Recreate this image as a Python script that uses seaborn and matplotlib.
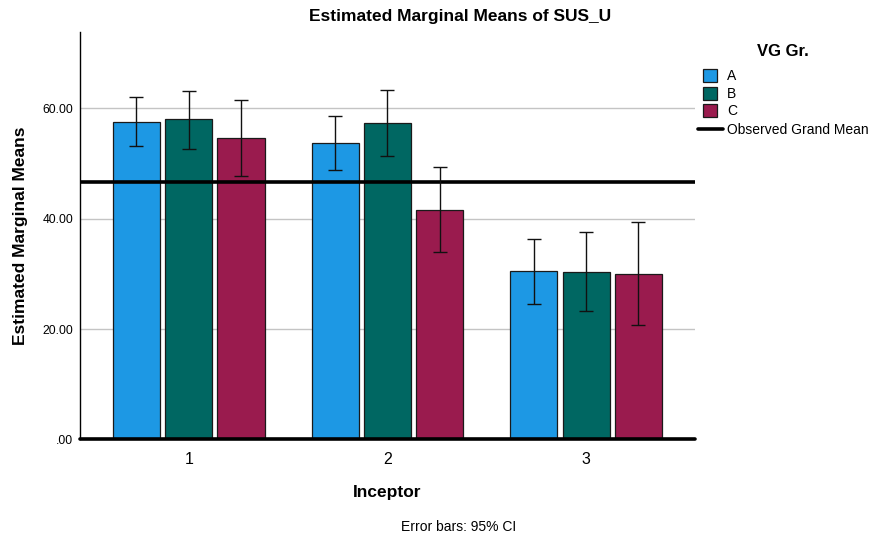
import numpy as np
import pandas as pd
import matplotlib
matplotlib.use("Agg")
import matplotlib.pyplot as plt
import seaborn as sns
from matplotlib.patches import Rectangle
from matplotlib.lines import Line2D

# Estimated marginal means of SUS_U by Inceptor level and VG group
inceptor = ["1", "2", "3"]
groups = ["A", "B", "C"]
mean_a = [57.6, 53.8, 30.5]
mean_b = [58.0, 57.3, 30.4]
mean_c = [54.6, 41.6, 30.0]
low_a = [53.2, 48.9, 24.6]
low_b = [52.7, 51.4, 23.3]
low_c = [47.7, 33.9, 20.7]
high_a = [62.0, 58.7, 36.4]
high_b = [63.2, 63.3, 37.5]
high_c = [61.5, 49.4, 39.4]
grand_mean = 46.7
y_ticks = [0, 20, 40, 60]
y_tick_labels = [".00", "20.00", "40.00", "60.00"]
colors = ["#1D98E4", "#006762", "#9A1B4E"]

means = [mean_a, mean_b, mean_c]
lows = [low_a, low_b, low_c]
highs = [high_a, high_b, high_c]

rows = []
for g, m, lo, hi in zip(groups, means, lows, highs):
    for lvl, v, l, h in zip(inceptor, m, lo, hi):
        rows.append({"Inceptor": lvl, "VG": g, "Mean": v, "Low": l, "High": h})
df = pd.DataFrame(rows)

sns.set_style("white")
plt.rcParams["font.family"] = ["Liberation Sans", "DejaVu Sans"]
plt.rcParams["text.color"] = "black"
plt.rcParams["axes.labelcolor"] = "black"

W, H = 870, 536
fig = plt.figure(figsize=(W / 100, H / 100), dpi=100)
ax = fig.add_axes([80 / W, 1 - 439.3 / H, 615 / W, 407 / H])

sns.barplot(data=df, x="Inceptor", y="Mean", hue="VG", order=inceptor,
            hue_order=groups, palette=colors, saturation=1, width=0.79,
            gap=0.1, edgecolor="#1a1a1a", linewidth=0.9, errorbar=None,
            legend=False, ax=ax, zorder=2)

# 95% CI error bars placed at the drawn bar centres
for cont, g in zip(ax.containers, groups):
    sub = df[df["VG"] == g].set_index("Inceptor").loc[inceptor]
    xs = [p.get_x() + p.get_width() / 2 for p in cont.patches]
    ys = sub["Mean"].to_numpy()
    err = np.vstack([ys - sub["Low"].to_numpy(), sub["High"].to_numpy() - ys])
    ax.errorbar(xs, ys, yerr=err, fmt="none", ecolor="#111111",
                elinewidth=1.0, capsize=4.8, capthick=1.0, zorder=4)

ax.axhline(grand_mean, color="black", lw=2.6, zorder=3)
ax.axhline(0, color="black", lw=2.6, zorder=3, clip_on=False)

ax.set_xlim(-0.547, 2.548)
ax.set_ylim(0, 73.8)
ax.set_yticks(y_ticks)
ax.set_yticklabels(y_tick_labels)
ax.yaxis.grid(True, color="#C4C4C4", lw=1.0)
ax.set_axisbelow(True)
ax.tick_params(axis="y", length=0, pad=5, labelsize=8.7, colors="black")
ax.tick_params(axis="x", length=0, pad=9, labelsize=11.5, colors="black")

for s in ["top", "right", "bottom"]:
    ax.spines[s].set_visible(False)
ax.spines["left"].set_color("black")
ax.spines["left"].set_linewidth(1.0)

ax.set_ylabel("Estimated Marginal Means", fontsize=12.5, fontweight="bold")
ax.yaxis.set_label_coords(-0.084, 0.5)
ax.set_xlabel("Inceptor", fontsize=12.5, fontweight="bold")
ax.xaxis.label.set_va("center")
ax.xaxis.set_label_coords(0.5, -(493 - 439.3) / 407)

fig.text(460 / W, 1 - 17 / H, "Estimated Marginal Means of SUS_U",
         ha="center", va="center", fontsize=12.5, fontweight="bold")
fig.text(459 / W, 1 - 527 / H, "Error bars: 95% CI",
         ha="center", va="center", fontsize=10)

# Legend
fig.text(783 / W, 1 - 51 / H, "VG Gr.", ha="center", va="center",
         fontsize=12, fontweight="bold")
for i, (g, c) in enumerate(zip(groups, colors)):
    top = 69 + i * 17.6
    fig.patches.append(Rectangle((703.5 / W, 1 - (top + 13) / H), 14 / W, 13 / H,
                                 transform=fig.transFigure, facecolor=c,
                                 edgecolor="#1a1a1a", lw=0.9))
    fig.text(727 / W, 1 - (top + 7) / H, g, ha="left", va="center", fontsize=10)
fig.lines.append(Line2D([698 / W, 723.5 / W], [1 - 128.5 / H, 1 - 128.5 / H],
                        transform=fig.transFigure, color="black", lw=2.6))
fig.text(727 / W, 1 - 130 / H, "Observed Grand Mean", ha="left", va="center",
         fontsize=10)

fig.savefig("out.png", dpi=100)
